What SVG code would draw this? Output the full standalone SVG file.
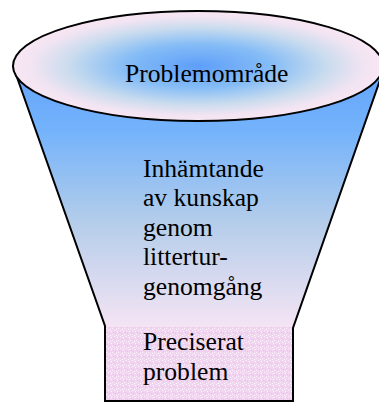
<svg xmlns="http://www.w3.org/2000/svg" width="379" height="404" viewBox="0 0 379 404">
<style>
text{font-family:"Liberation Serif","Times New Roman",serif;font-size:25.6px;fill:#000}
.outline{fill:none;stroke:#000;stroke-width:2;stroke-linejoin:miter}
</style>
<defs>
<linearGradient id="body" x1="0" y1="66" x2="0" y2="326" gradientUnits="userSpaceOnUse">
<stop offset="0" stop-color="#62a2fa"/>
<stop offset="0.25" stop-color="#74b3fb"/>
<stop offset="0.6" stop-color="#b4cdea"/>
<stop offset="1" stop-color="#f4e4f4"/>
</linearGradient>
<radialGradient id="top" cx="198" cy="66" r="185" gradientUnits="userSpaceOnUse" gradientTransform="translate(0,66) scale(1,0.297) translate(0,-66)">
<stop offset="0" stop-color="#5e9ef9"/>
<stop offset="0.4" stop-color="#86bdf6"/>
<stop offset="0.7" stop-color="#cadcee"/>
<stop offset="0.9" stop-color="#f2e4f2"/>
<stop offset="1" stop-color="#f8e6f4"/>
</radialGradient>
<pattern id="speck" width="6" height="6" patternUnits="userSpaceOnUse">
<rect width="6" height="6" fill="#f0d4f0"/>
<rect x="0" y="0" width="1" height="1" fill="#fbf0fb"/>
<rect x="3" y="1" width="1" height="1" fill="#fff"/>
<rect x="1" y="3" width="1" height="1" fill="#e6c4e8"/>
<rect x="4" y="4" width="1" height="1" fill="#fbf0fb"/>
<rect x="2" y="5" width="1" height="1" fill="#fff"/>
<rect x="5" y="2" width="1" height="1" fill="#e6c4e8"/>
</pattern>
</defs>
<g id="funnel-body">
<polygon points="13,66 385,66 293,327 105,327" fill="url(#body)"/>
</g>
<g id="box">
<rect x="105" y="327" width="188" height="74" fill="url(#speck)"/>
</g>
<g id="connectors">
<path class="outline" d="M13,66 L105,326 L105,401 L293,401 L293,328 L385,66"/>
</g>
<g id="top-ellipse">
<ellipse cx="198" cy="66" rx="185" ry="55" fill="url(#top)" stroke="#000" stroke-width="2"/>
<text x="125" y="82">Problemområde</text>
</g>
<g id="body-label">
<text x="143" y="176.5">Inhämtande</text>
<text x="143" y="206">av kunskap</text>
<text x="143" y="235.5">genom</text>
<text x="143" y="265">littertur-</text>
<text x="143" y="294.5">genomgång</text>
</g>
<g id="box-label">
<text x="143" y="350">Preciserat</text>
<text x="143" y="380">problem</text>
</g>
</svg>
